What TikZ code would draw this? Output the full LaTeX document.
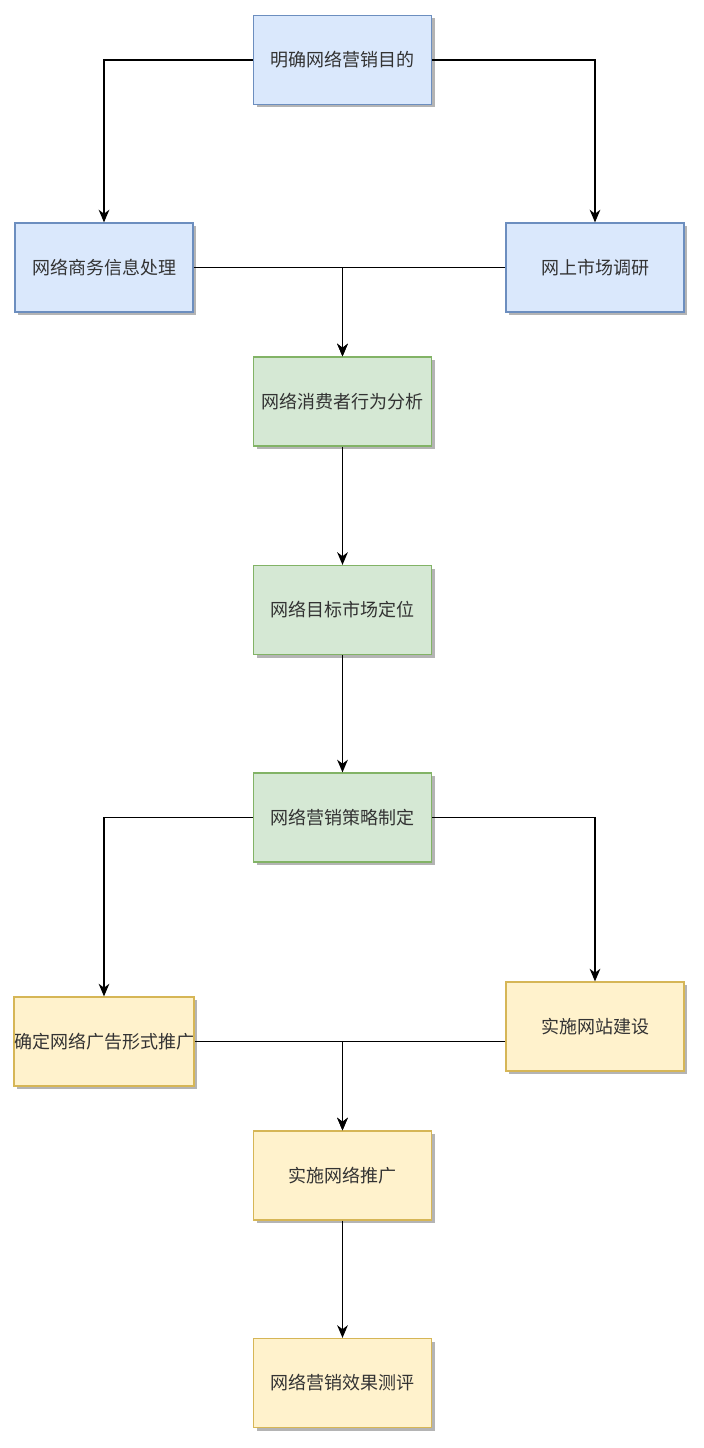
\documentclass[tikz,border=0pt]{standalone}
\usepackage{fontspec}
\newfontfamily\cjk{Noto Sans CJK SC}
\usepackage{xcolor}
\usepackage{tikz}
\usetikzlibrary{arrows.meta,positioning,shadows}
\definecolor{mkedge}{RGB}{0,0,0}
\definecolor{mkblue}{HTML}{DAE8FC}
\definecolor{mkblueline}{HTML}{6C8EBF}
\definecolor{mkgreen}{HTML}{D5E8D4}
\definecolor{mkgreenline}{HTML}{82B366}
\definecolor{mkyellow}{HTML}{FFF2CC}
\definecolor{mkyellowline}{HTML}{D6B656}
\definecolor{mkshade}{RGB}{180,180,180}
\tikzset{
  mkbox/.style={
    line width=0.9pt, align=center, inner sep=0pt,
    minimum width=133.5pt, minimum height=66.75pt,
    font=\cjk\fontsize{13.5}{16}\selectfont, text=black!80,
    drop shadow={shadow xshift=2.25pt, shadow yshift=-2.25pt, fill=mkshade, opacity=1}
  },
  plan/.style={mkbox, draw=mkblueline, fill=mkblue},
  study/.style={mkbox, draw=mkgreenline, fill=mkgreen},
  act/.style={mkbox, draw=mkyellowline, fill=mkyellow},
  arr/.style={-{Stealth[length=9.5pt,width=8pt,inset=3pt]}, draw=mkedge, line width=1.1pt}
}
\begin{document}
\begin{tikzpicture}[x=0.75pt, y=-0.75pt]
  \useasboundingbox (0,0) rectangle (703,1448);
  % research phase
  \node[plan] (goal) at (342.5,60) {明确网络营销目的};
  \node[plan] (info) at (104,267.5) {网络商务信息处理};
  \node[plan] (survey) at (595,267.5) {网上市场调研};
  % analysis phase
  \node[study] (consumer) at (342.5,401.5) {网络消费者行为分析};
  \node[study] (target) at (342.5,610) {网络目标市场定位};
  \node[study] (strategy) at (342.5,817.5) {网络营销策略制定};
  % execution phase
  \node[act] (adform) at (104,1041.5) {确定网络广告形式推广};
  \node[act] (site) at (595,1026.5) {实施网站建设};
  \node[act] (promo) at (342.5,1175.5) {实施网络推广};
  \node[act] (review) at (342.5,1383) {网络营销效果测评};

  \draw[arr] (goal.west) -| (info);
  \draw[arr] (goal.east) -| (survey);
  \draw[arr] (info.east) -| (consumer);
  \draw[arr] (survey.west) -| (consumer);
  \foreach \p/\q in {consumer/target,target/strategy} \draw[arr] (\p) -- (\q);
  \draw[arr] (strategy.west) -| (adform);
  \draw[arr] (strategy.east) -| (site);
  \draw[arr] (adform.east) -| (promo);
  \draw[arr] (site.west |- adform.east) -| (promo);
  \draw[arr] (promo) -- (review);
\end{tikzpicture}
\end{document}
